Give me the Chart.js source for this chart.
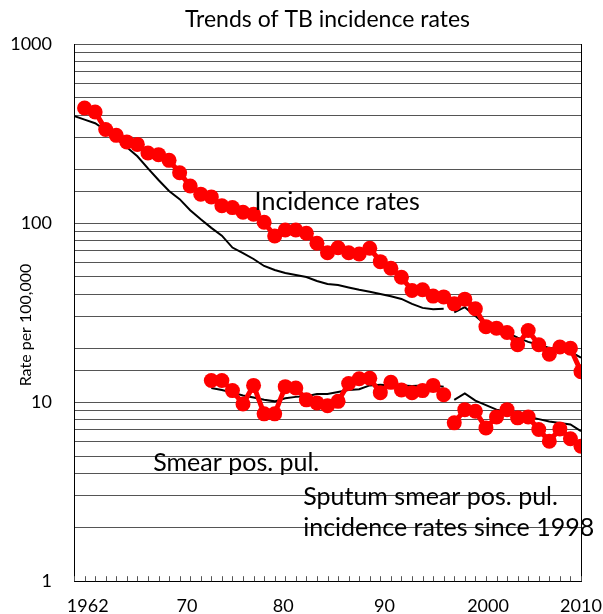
<!DOCTYPE html>
<html>
<head>
<meta charset="utf-8">
<script src="https://cdn.jsdelivr.net/npm/chart.js@4.4.1/dist/chart.umd.min.js"></script>
<style>
  html, body { margin: 0; padding: 0; background: #fff; }
  #wrap { width: 603px; height: 614px; }
</style>
</head>
<body>
<div id="wrap"><canvas id="tb" width="603" height="614"></canvas></div>
<script>
// years on the x axis
var years = [1962, 1963, 1964, 1965, 1966, 1967, 1968, 1969, 1970, 1971,
  1972, 1973, 1974, 1975, 1976, 1977, 1978, 1979, 1980, 1981,
  1982, 1983, 1984, 1985, 1986, 1987, 1988, 1989, 1990, 1991,
  1992, 1993, 1994, 1995, 1996, 1997, 1998, 1999, 2000, 2001,
  2002, 2003, 2004, 2005, 2006, 2007, 2008, 2009, 2010]

// all TB incidence rates (red dots) and their trend (black)
var incidence = [null, 439, 417, 333, 309, 284, 275, 246, 241, 224,
  191, 161, 145, 140, 125, 122, 115, 112, 101, 84.7,
  91.4, 91.4, 87.7, 77.1, 68.3, 72.8, 68.3, 67.2, 72.3, 60.9,
  55.9, 49.8, 42, 42.4, 39.1, 38.7, 35.4, 37.6, 33.2, 26.4,
  25.9, 24.5, 20.9, 25.1, 20.9, 18.5, 20.3, 20, 14.8]
var incidenceTrend = [396, 378, 361, 330, 296, 265, 236, 202, 174, 151,
  136, 118, 105, 94, 85, 73, 68, 63, 57.6, 54.7,
  52.6, 51.3, 50, 47.5, 45.7, 45.1, 43.7, 42.4, 41.3, 40.2,
  39, 37.7, 35.4, 33.6, 33, 33.2, 31.7, 33.9, 30.3, 27,
  25.7, 24.4, 22.9, 21.7, 20.9, 20.1, 19.6, 19.1, 17.7]

// smear positive pulmonary (sputum smear since 1998)
var smear = [null, null, null, null, null, null, null, null, null, null,
  null, null, null, 13.2, 13.2, 11.6, 9.77, 12.4, 8.6, 8.6,
  12.2, 12.0, 10.3, 9.9, 9.56, 10.1, 12.7, 13.5, 13.6, 11.3,
  12.9, 11.7, 11.3, 11.6, 12.4, 11.0, 7.66, 9.08, 8.89, 7.18,
  8.27, 9.08, 8.17, 8.27, 7.03, 6.05, 7.09, 6.24, 5.67]
var smearTrend = [null, null, null, null, null, null, null, null, null, null,
  null, null, null, 12.0, 11.7, 11.3, 10.9, 10.6, 10.3, 10.1,
  10.5, 10.7, 10.8, 11.1, 11.1, 11.4, 11.7, 11.8, 12.4, 12.5,
  12.4, 12.4, 12.3, 12.4, 12.4, 12.2, 10.3, 11.2, 10.2, 9.62,
  9.08, 8.85, 8.58, 8.3, 8.04, 7.79, 7.64, 7.5, 6.88]

var breakYear = 1998

// x tick labels and where they sit
var xTickVals = [1963.3, 1972.7, 1981.8, 1991.4, 2001.2, 2010]
var xTickLabels = ['1962', '70', '80', '90', '2000', '2010']
var yTickLabels = [1, 10, 100, 1000]

var FONT = 'Lato, "Open Sans", sans-serif'

function pts(arr) {
  return years.map(function (yr, i) { return { x: yr, y: arr[i] } })
}

function gapAt(color) {
  return function (ctx) {
    return ctx.p1.parsed.x === breakYear ? 'transparent' : color
  }
}

var extras = {
  id: 'extras',
  afterDraw: function (chart) {
    var ctx = chart.ctx
    var area = chart.chartArea
    var xs = chart.scales.x
    var ys = chart.scales.y
    ctx.save()
    // right border
    ctx.strokeStyle = '#000'
    ctx.lineWidth = 1
    ctx.beginPath()
    ctx.moveTo(area.right + 0.5, area.top)
    ctx.lineTo(area.right + 0.5, area.bottom)
    ctx.stroke()
    // little year ticks on the bottom axis
    ctx.strokeStyle = '#555'
    years.forEach(function (yr) {
      var px = Math.round(xs.getPixelForValue(yr)) + 0.5
      ctx.beginPath()
      ctx.moveTo(px, area.bottom)
      ctx.lineTo(px, area.bottom - 5)
      ctx.stroke()
    })
    ctx.fillStyle = '#000'
    ctx.textBaseline = 'alphabetic'
    // title
    ctx.textAlign = 'center'
    ctx.font = '23px ' + FONT
    ctx.fillText('Trends of TB incidence rates', (area.left + area.right) / 2, 27)
    // y axis title
    ctx.save()
    ctx.translate(31, 325)
    ctx.rotate(-Math.PI / 2)
    ctx.font = '16px ' + FONT
    ctx.fillText('Rate per 100,000', 0, 0)
    ctx.restore()
    // annotations
    ctx.textAlign = 'left'
    ctx.font = '25px ' + FONT
    ctx.fillText('Incidence rates', xs.getPixelForValue(1979.1), ys.getPixelForValue(119))
    ctx.fillText('Smear pos. pul.', xs.getPixelForValue(1969.5), ys.getPixelForValue(4.1))
    ctx.fillText('Sputum smear pos. pul.', xs.getPixelForValue(1983.7), ys.getPixelForValue(2.65))
    ctx.fillText('incidence rates since 1998', xs.getPixelForValue(1983.7), ys.getPixelForValue(1.78))
    ctx.restore()
  }
}

new Chart(document.getElementById('tb'), {
  type: 'line',
  data: {
    datasets: [
      {
        label: 'Incidence rates',
        data: pts(incidence),
        borderColor: '#ff0000',
        backgroundColor: '#ff0000',
        borderWidth: 5,
        pointRadius: 7.5,
        pointBorderWidth: 0,
        tension: 0
      },
      {
        label: 'Smear pos. pul.',
        data: pts(smear),
        borderColor: '#ff0000',
        backgroundColor: '#ff0000',
        borderWidth: 5,
        pointRadius: 7.5,
        pointBorderWidth: 0,
        tension: 0,
        segment: { borderColor: gapAt('#ff0000') }
      },
      {
        label: 'Incidence trend',
        data: pts(incidenceTrend),
        borderColor: '#000',
        borderWidth: 2,
        pointRadius: 0,
        tension: 0,
        segment: { borderColor: gapAt('#000') }
      },
      {
        label: 'Smear trend',
        data: pts(smearTrend),
        borderColor: '#000',
        borderWidth: 2,
        pointRadius: 0,
        tension: 0,
        segment: { borderColor: gapAt('#000') }
      }
    ]
  },
  options: {
    responsive: false,
    animation: false,
    layout: { padding: { top: 44, right: 22, left: 0, bottom: 0 } },
    plugins: {
      legend: { display: false },
      title: { display: false },
      tooltip: { enabled: false }
    },
    scales: {
      x: {
        type: 'linear',
        min: 1962,
        max: 2010,
        grid: { display: false, drawTicks: false },
        border: { display: true, color: '#000', width: 1 },
        afterBuildTicks: function (scale) {
          scale.ticks = xTickVals.map(function (v) { return { value: v } })
        },
        afterFit: function (scale) {
          scale.height = 32
          scale.paddingLeft = 0
          scale.paddingRight = 0
        },
        ticks: {
          color: '#000',
          font: { size: 18, family: FONT },
          padding: 14,
          maxRotation: 0,
          autoSkip: false,
          callback: function (v) {
            var i = xTickVals.indexOf(v)
            return i >= 0 ? xTickLabels[i] : ''
          }
        }
      },
      y: {
        type: 'logarithmic',
        min: 1,
        max: 1000,
        grid: { color: '#555', lineWidth: 1, drawTicks: false },
        border: { display: true, color: '#000', width: 1 },
        afterFit: function (scale) { scale.width = 74 },
        ticks: {
          color: '#000',
          font: { size: 18, family: FONT },
          padding: 22,
          autoSkip: false,
          callback: function (v) {
            return yTickLabels.indexOf(v) >= 0 ? String(v) : ''
          }
        }
      }
    }
  },
  plugins: [extras]
})
</script>
</body>
</html>
